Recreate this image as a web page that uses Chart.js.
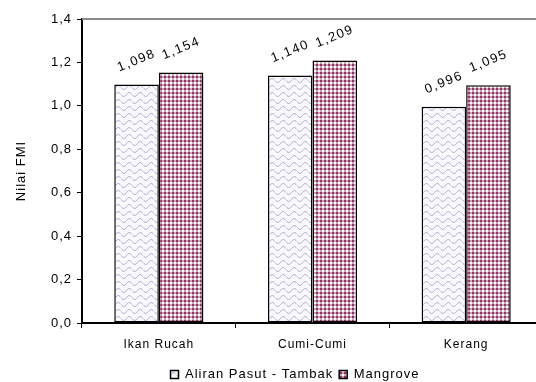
<!DOCTYPE html>
<html>
<head>
<meta charset="utf-8">
<script src="https://cdn.jsdelivr.net/npm/chart.js@4/dist/chart.umd.min.js"></script>
<style>
  html, body { margin: 0; padding: 0; background: #fff; overflow: hidden; width: 536px; height: 382px; }
  #wrap { position: absolute; left: 0; top: 0; width: 590px; height: 382px; }
</style>
</head>
<body>
<div id="wrap"><canvas id="c" width="590" height="382"></canvas></div>
<script>
// Categories and series
const categories = ['Ikan Rucah', 'Cumi-Cumi', 'Kerang'];
const seriesNames = ['Aliran Pasut - Tambak', 'Mangrove'];
const aliranPasut = [1.098, 1.140, 0.996];
const mangrove = [1.154, 1.209, 1.095];
// Value axis
const yMin = 0;
const yMax = 1.4;
const yStep = 0.2;

const FONT = '"Liberation Sans", Arial, Helvetica, sans-serif';

function fmt(v, digits) {
  return v.toFixed(digits).replace('.', ',');
}

// Wavy lavender hatch
function wavePattern() {
  const t = document.createElement('canvas');
  t.width = 11; t.height = 7;
  const g = t.getContext('2d');
  g.fillStyle = '#f8f8fd';
  g.fillRect(0, 0, 11, 7);
  g.strokeStyle = '#a6a6d4';
  g.lineWidth = 1;
  g.beginPath();
  for (let x = 0; x <= 11; x += 0.5) {
    const y = 3.5 + 2 * Math.sin((x / 11) * Math.PI * 2);
    if (x === 0) g.moveTo(x, y); else g.lineTo(x, y);
  }
  g.stroke();
  return g.createPattern(t, 'repeat');
}

// Small maroon checkerboard
function checkPattern() {
  const t = document.createElement('canvas');
  t.width = 4; t.height = 4;
  const g = t.getContext('2d');
  g.fillStyle = '#d3a0b9';
  g.fillRect(0, 0, 4, 4);
  g.fillStyle = '#8c3864';
  g.fillRect(0, 0, 2, 2);
  g.fillStyle = '#ffffff';
  g.fillRect(2, 2, 2, 2);
  return g.createPattern(t, 'repeat');
}

// Slightly spaced lettering for all chart text
const letterSpacing = {
  id: 'letterSpacing',
  beforeUpdate(chart) { chart.ctx.letterSpacing = '1px'; },
  beforeDraw(chart) { chart.ctx.letterSpacing = '1px'; }
};

// Fixed legend band height so the legend row sits close to the bottom edge
const legendBand = {
  id: 'legendBand',
  beforeLayout(chart) {
    const lg = chart.legend;
    if (lg && !lg.__banded) {
      const fit = lg.fit;
      lg.fit = function () { fit.call(this); this.height = 20; };
      lg.__banded = true;
    }
  }
};

// Rotated value labels above each bar
const valueLabels = {
  id: 'valueLabels',
  afterDatasetsDraw(chart) {
    const ctx = chart.ctx;
    ctx.save();
    ctx.font = '13px ' + FONT;
    ctx.letterSpacing = '1.5px';
    ctx.fillStyle = '#000';
    ctx.textAlign = 'center';
    ctx.textBaseline = 'middle';
    chart.data.datasets.forEach((ds, i) => {
      chart.getDatasetMeta(i).data.forEach((bar, j) => {
        ctx.save();
        ctx.translate(bar.x, bar.y - 24);
        ctx.rotate(-22 * Math.PI / 180);
        ctx.fillText(fmt(ds.data[j], 3), 0, 0);
        ctx.restore();
      });
    });
    ctx.restore();
  }
};

// Grey line along the top of the plot area
const topBorder = {
  id: 'topBorder',
  afterDraw(chart) {
    const { ctx, chartArea } = chart;
    ctx.save();
    ctx.strokeStyle = '#8a8a8a';
    ctx.lineWidth = 2;
    ctx.beginPath();
    ctx.moveTo(chartArea.left, chartArea.top);
    ctx.lineTo(chartArea.right, chartArea.top);
    ctx.stroke();
    ctx.restore();
  }
};

new Chart(document.getElementById('c'), {
  type: 'bar',
  data: {
    labels: categories,
    datasets: [
      {
        label: seriesNames[0],
        data: aliranPasut,
        backgroundColor: wavePattern(),
        borderColor: '#000',
        borderWidth: 1.5,
        borderSkipped: false,
        yAxisID: 'y'
      },
      {
        label: seriesNames[1],
        data: mangrove,
        backgroundColor: checkPattern(),
        borderColor: '#000',
        borderWidth: 1.5,
        borderSkipped: false,
        yAxisID: 'y'
      }
    ]
  },
  options: {
    responsive: false,
    animation: false,
    events: [],
    categoryPercentage: 0.58,
    barPercentage: 1.0,
    layout: { padding: { top: 19, left: 0, right: 0, bottom: 0 } },
    plugins: {
      tooltip: { enabled: false },
      legend: {
        position: 'bottom',
        labels: {
          font: { family: FONT, size: 13 },
          color: '#000',
          boxWidth: 8,
          boxHeight: 8,
          padding: 6
        }
      }
    },
    scales: {
      x: {
        offset: true,
        grid: {
          offset: true,
          drawOnChartArea: false,
          drawTicks: true,
          tickLength: 5,
          color: '#000',
          lineWidth: 1
        },
        border: { display: true, color: '#000', width: 2 },
        ticks: { font: { family: FONT, size: 12 }, color: '#000', padding: 9 },
        afterFit(s) { s.height = 39; }
      },
      y: {
        position: 'left',
        min: yMin,
        max: yMax,
        ticks: {
          stepSize: yStep,
          font: { family: FONT, size: 13 },
          color: '#000',
          padding: 5,
          callback: v => fmt(v, 1)
        },
        grid: {
          drawOnChartArea: false,
          drawTicks: true,
          tickLength: 5,
          color: '#000',
          lineWidth: 1
        },
        border: { display: true, color: '#000', width: 2 },
        title: {
          display: true,
          text: 'Nilai FMI',
          font: { family: FONT, size: 13 },
          color: '#000',
          padding: { top: 14, bottom: 0 }
        },
        afterFit(s) { s.width = 82; }
      },
      yR: {
        position: 'right',
        display: true,
        min: yMin,
        max: yMax,
        grid: { display: false },
        border: { display: false },
        ticks: { display: false },
        afterFit(s) { s.width = 47; }
      }
    }
  },
  plugins: [letterSpacing, legendBand, valueLabels, topBorder]
});
</script>
</body>
</html>
